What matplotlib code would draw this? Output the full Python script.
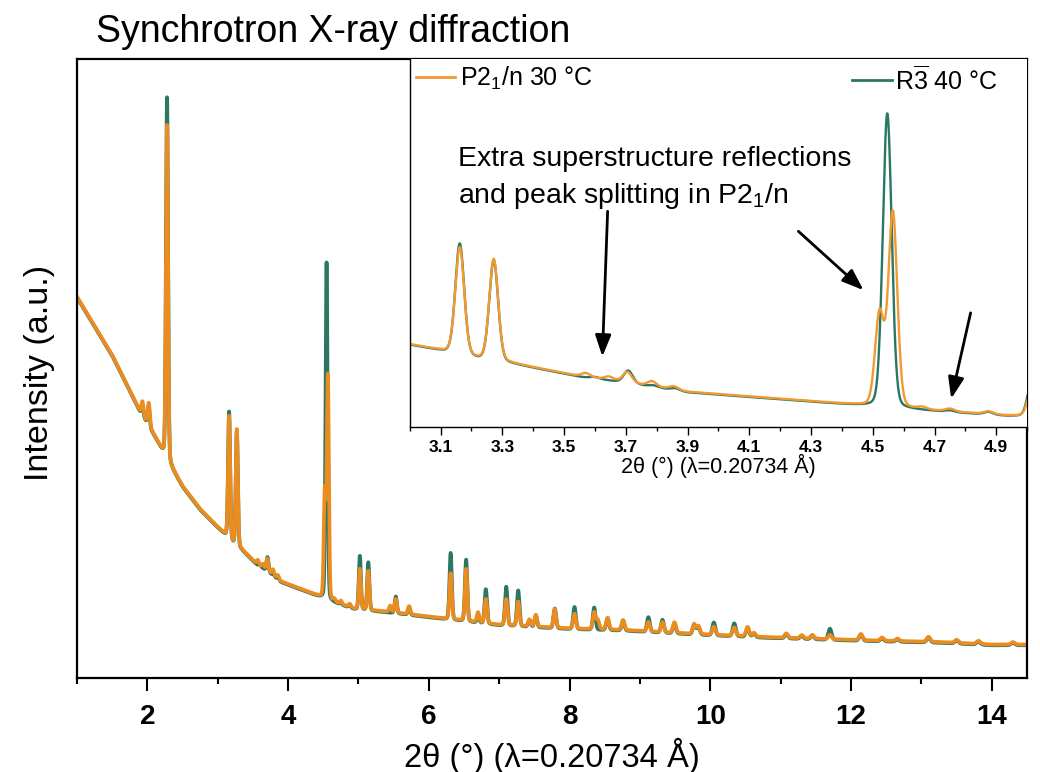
import numpy as np
import matplotlib
matplotlib.use("Agg")
import matplotlib.pyplot as plt
from matplotlib.lines import Line2D

plt.rcParams['font.family'] = ['Liberation Sans', 'DejaVu Sans']
plt.rcParams['mathtext.fontset'] = 'custom'
plt.rcParams['mathtext.rm'] = 'Liberation Sans'
plt.rcParams['mathtext.it'] = 'Liberation Sans:italic'
plt.rcParams['mathtext.bf'] = 'Liberation Sans:bold'

# ---- data (intensity in arbitrary units) ----
bg_x = [1.0, 1.5, 1.9, 2.0, 2.1, 2.2, 2.3, 2.5, 2.75, 3.0, 3.1, 3.225, 3.33,
        3.55, 3.7, 3.9, 4.2, 4.47, 4.6, 4.94, 5.5, 6.16, 7.0, 8.0, 8.78,
        9.8, 10.8, 12.17, 13.27, 14.0, 14.5]
bg_y = [61.6, 52.2, 43.0, 41.2, 39.2, 37.0, 34.9, 31.0, 27.3, 24.4, 23.3, 21.7, 20.9,
        18.5, 17.4, 15.6, 14.3, 13.1, 12.5, 11.2, 10.6, 9.7, 8.6, 8.0, 7.75,
        7.1, 6.6, 6.1, 5.8, 5.4, 5.4]

# P2_1/n 30 C peaks: position (deg), height above background
p21n_pos = [1.93, 2.02, 2.28, 3.162, 3.272, 3.57, 3.645, 3.705, 3.785, 3.855,
            4.522, 4.565, 4.66, 4.75, 4.875, 5.02, 5.14, 5.45, 5.53, 5.72,
            6.31, 6.53, 6.70, 6.81, 7.10, 7.27, 7.43, 7.52, 7.79, 8.07,
            8.35, 8.40, 8.54, 8.76, 9.12, 9.32, 9.49, 9.77, 9.83, 10.05,
            10.34, 10.53, 10.62, 11.08, 11.3, 11.45, 11.7, 12.14, 12.44, 12.66,
            13.1, 13.5, 13.81, 14.3]
p21n_h = [2.2, 3.6, 54.0, 19.8, 18.8, 0.7, 0.6, 1.9, 0.9, 0.6,
          17.0, 36.0, 0.4, 0.5, 0.5, 6.5, 6.3, 1.0, 2.2, 1.3,
          7.4, 8.4, 1.6, 3.9, 4.2, 3.9, 1.1, 1.9, 3.0, 2.4,
          2.7, 1.5, 1.9, 1.6, 1.5, 1.6, 1.7, 1.6, 1.3, 1.3,
          1.3, 1.5, 0.6, 0.7, 0.5, 0.6, 0.7, 1.0, 0.5, 0.4,
          0.8, 0.5, 0.5, 0.4]

# R-3 40 C peaks
r3_pos = [1.93, 2.02, 2.28, 3.162, 3.272, 3.60, 3.708, 3.79, 3.86, 4.547,
          4.75, 4.875, 5.02, 5.14, 5.53, 5.72, 6.31, 6.53, 6.70, 6.81,
          7.10, 7.27, 7.43, 7.52, 7.79, 8.07, 8.35, 8.54, 8.76, 9.12,
          9.32, 9.49, 9.77, 9.83, 10.05, 10.34, 10.53, 10.62, 11.08, 11.3,
          11.45, 11.7, 12.14, 12.44, 12.66, 13.1, 13.5, 13.81, 14.3]
r3_h = [1.6, 3.2, 58.6, 20.6, 18.6, 0.3, 2.3, 0.3, 0.4, 54.5,
        0.3, 0.5, 8.7, 7.8, 2.7, 1.3, 10.8, 10.0, 1.0, 5.6,
        6.3, 5.8, 1.1, 1.9, 3.2, 3.6, 3.6, 1.9, 1.6, 2.4,
        2.1, 1.6, 1.6, 1.3, 2.1, 2.1, 1.5, 0.6, 0.7, 0.5,
        0.6, 1.8, 1.0, 0.5, 0.4, 0.8, 0.5, 0.5, 0.4]

main_ticks = [2, 4, 6, 8, 10, 12, 14]
inset_ticks = [3.1, 3.3, 3.5, 3.7, 3.9, 4.1, 4.3, 4.5, 4.7, 4.9]

label_p21n = r'P$2_1$/n 30 °C'
label_r3 = r'R$\overline{3}$ 40 °C'
xlabel = '2θ (°) (λ=0.20734 Å)'

# arrows in the inset: (start x, start y) -> (end x, end y)
arrows = [((3.641, 49.0), (3.624, 22.1)),
          ((4.259, 45.3), (4.470, 34.4)),
          ((4.817, 30.2), (4.754, 14.3))]

ORANGE = '#EA8C20'
ORANGE_IN = '#F29A30'
GREEN = '#2B7764'

ETA = 0.15


def pattern(x, pos, h, offset=0.0):
    y = np.interp(x, bg_x, bg_y) + offset
    for p, a in zip(pos, h):
        fwhm = 0.034 + 0.003 * max(0.0, p - 4.7)
        s = fwhm / 2.3548
        g = fwhm / 2
        d = x - p
        y += a * ((1 - ETA) * np.exp(-0.5 * (d / s) ** 2) + ETA / (1 + (d / g) ** 2))
    return y


tth = np.arange(1.0, 14.5005, 0.001)
y_p21n = pattern(tth, p21n_pos, p21n_h)
y_r3 = pattern(tth, r3_pos, r3_h, offset=-0.12)

fig = plt.figure(figsize=(10.4, 7.72), dpi=100)
ax = fig.add_axes([0.074, 0.1218, 0.9135, 0.8018])
ax.plot(tth, y_r3, color=GREEN, lw=2.7, solid_joinstyle='round')
ax.plot(tth, y_p21n, color=ORANGE, lw=2.7, solid_joinstyle='round')
ax.set_xlim(1, 14.5)
ax.set_ylim(0, 100)
ax.set_yticks([])
ax.set_xticks(main_ticks, labels=[str(t) for t in main_ticks], fontweight='bold')
ax.set_xticks(np.arange(1, 15, 2), minor=True)
ax.tick_params(axis='x', which='major', direction='out', length=9, width=1.5,
               labelsize=20, pad=10)
ax.tick_params(axis='x', which='minor', direction='out', length=4.3, width=1.5)
for sp in ax.spines.values():
    sp.set_linewidth(1.6)
ax.set_xlabel(xlabel, fontsize=23.5)
ax.xaxis.set_label_coords(0.5, -0.096)
ax.xaxis.label.set_va('top')

fig.text(40 / 1040, 1 - 373 / 772, 'Intensity (a.u.)', rotation=90,
         ha='center', va='center', fontsize=24.5)
fig.text(96 / 1040, 1 - 41.5 / 772, 'Synchrotron X-ray diffraction',
         ha='left', va='baseline', fontsize=27)

# ---- inset ----
axi = fig.add_axes([0.394, 0.4469, 0.5936, 0.4767])
axi.plot(tth, y_r3, color=GREEN, lw=1.7)
axi.plot(tth, y_p21n, color=ORANGE_IN, lw=1.7)
axi.set_xlim(3.0, 5.0)
axi.set_ylim(9.07, 77.2)
axi.set_yticks([])
axi.set_xticks(inset_ticks, labels=[f'{t:.1f}' for t in inset_ticks], fontweight='bold')
axi.set_xticks(np.arange(3.0, 5.01, 0.2), minor=True)
axi.tick_params(axis='x', which='major', direction='out', length=5.5, width=1.0,
                labelsize=12.5, pad=4)
axi.tick_params(axis='x', which='minor', direction='out', length=3, width=1.0)
for sp in axi.spines.values():
    sp.set_linewidth(1.0)
axi.spines['top'].set_visible(False)
axi.spines['right'].set_visible(False)
axi.set_xlabel(xlabel, fontsize=15.5)
axi.xaxis.set_label_coords(0.5, -0.073)
axi.xaxis.label.set_va('top')

h_or = Line2D([], [], color=ORANGE_IN, lw=2)
h_gr = Line2D([], [], color=GREEN, lw=2)
leg1 = axi.legend([h_or], [label_p21n], loc='upper left', frameon=False,
                  fontsize=18, handlelength=1.55, handletextpad=0.22,
                  borderpad=0.1, borderaxespad=0.15)
axi.add_artist(leg1)
axi.legend([h_gr], [label_r3], loc='upper right', frameon=False,
           fontsize=18, handlelength=1.6, handletextpad=0.15,
           borderpad=0.1, borderaxespad=0.15, bbox_to_anchor=(0.963, 1.0))

axi.text(3.156, 57.3, 'Extra superstructure reflections', fontsize=20.5,
         ha='left', va='baseline')
axi.text(3.156, 50.6, r'and peak splitting in P$2_1$/n', fontsize=20.5,
         ha='left', va='baseline')
for (x0, y0), (x1, y1) in arrows:
    axi.annotate('', xy=(x1, y1), xytext=(x0, y0),
                 arrowprops=dict(arrowstyle='-|>,head_length=0.65,head_width=0.24',
                                 color='black', lw=2, mutation_scale=20,
                                 shrinkA=0, shrinkB=0))

fig.savefig('out.png', dpi=100)
